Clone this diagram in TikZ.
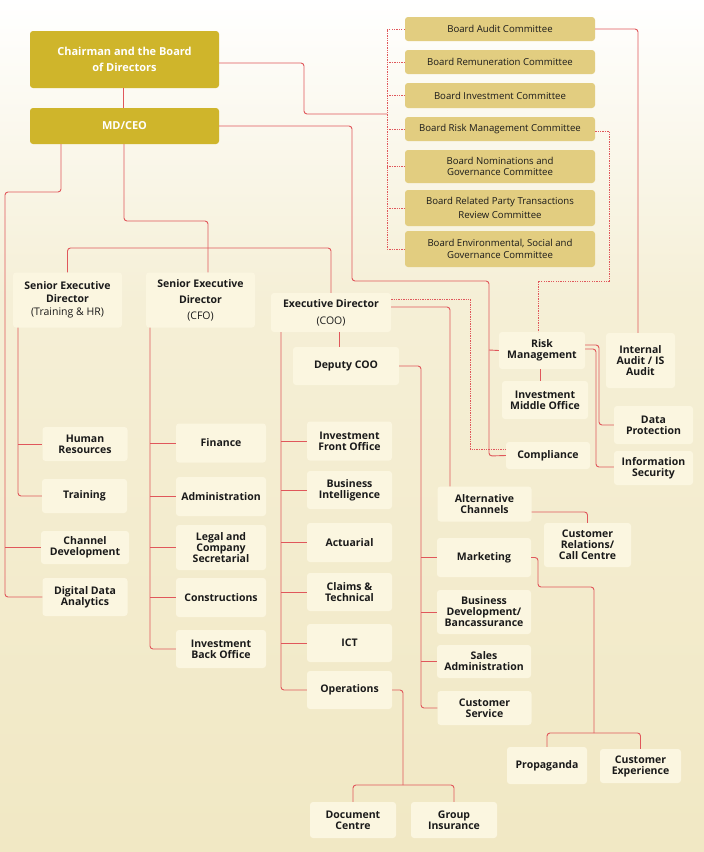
\documentclass[tikz,border=0pt]{standalone}
\usepackage{fontspec}
\setmainfont{Open Sans}
\usetikzlibrary{positioning}

\definecolor{bgmid}{HTML}{F5EFD6}
\definecolor{bgbot}{HTML}{F1E8C4}
\definecolor{gold}{HTML}{CFB52B}
\definecolor{comm}{HTML}{E2CD80}
\definecolor{cream}{HTML}{FBF6E0}
\definecolor{ink}{HTML}{1A1A1A}
\definecolor{linkred}{HTML}{E0575B}

\begin{document}
\begin{tikzpicture}[
    x=1pt, y=-1pt,
    topbox/.style={fill=gold, rounded corners=3pt, text=white, align=center, inner sep=0pt,
                   font=\fontsize{11}{16}\selectfont\bfseries},
    combox/.style={fill=comm, rounded corners=3pt, text=ink, align=center, inner sep=0pt,
                   minimum width=190pt, font=\fontsize{9.6}{11.5}\selectfont},
    unit/.style={fill=cream, rounded corners=3pt, text=ink, align=center, inner sep=0pt,
                 font=\fontsize{10.5}{11}\selectfont\bfseries},
    link/.style={draw=linkred, line width=0.9pt, rounded corners=3pt},
    dlink/.style={draw=linkred, line width=1pt, dash pattern=on 1.3pt off 1.1pt},
]

% Background
\shade[top color=white, bottom color=bgmid] (0,0) rectangle (704,300);
\shade[top color=bgmid, bottom color=bgbot] (0,300) rectangle (704,852);
\path[use as bounding box] (0,0) rectangle (704,852);

% Board and CEO
\node[topbox, minimum width=189pt, minimum height=57pt] (chair) at (124.5,59.5)
      {Chairman and the Board\\of Directors};
\node[topbox, minimum width=189pt, minimum height=36pt] (mdceo) at (124.5,126) {MD/CEO};

% Board committees
\node[combox, minimum height=24pt] (cma) at (500,29) {Board Audit Committee};
\node[combox, minimum height=24pt] (cmr) at (500,62) {Board Remuneration Committee};
\node[combox, minimum height=25pt] (cmi) at (500,95.5) {Board Investment Committee};
\node[combox, minimum height=24pt] (cmk) at (500,129) {Board Risk Management Committee};
\node[combox, minimum height=33pt] (cmn) at (500,166.5) {Board Nominations and\\Governance Committee};
\node[combox, minimum height=36pt] (cmp) at (500,208) {Board Related Party Transactions\\[2pt]Review Committee};
\node[combox, minimum height=36pt] (cme) at (500,249) {Board Environmental, Social and\\[1pt]Governance Committee};

% Directors
\node[unit, minimum width=109pt, minimum height=55pt] (sedhr) at (67.5,300)
      {Senior Executive\\[2pt]Director\\[2pt]{\mdseries (Training \& HR)}};
\node[unit, minimum width=109pt, minimum height=55pt] (sedcfo) at (200.5,300)
      {Senior Executive\\[5pt]Director\\[5pt]{\mdseries (CFO)}};
\node[unit, minimum width=120pt, minimum height=39pt] (edcoo) at (331,312.5)
      {Executive Director\\[6pt]{\mdseries (COO)}};
\node[unit, minimum width=106pt, minimum height=38pt] (dcoo) at (346,366) {Deputy COO};

% Risk and control
\node[unit, minimum width=86pt, minimum height=37pt] (risk) at (542,350.5) {Risk\\Management};
\node[unit, minimum width=86pt, minimum height=38pt] (imo) at (545,400) {Investment\\Middle Office};
\node[unit, minimum width=69pt, minimum height=55pt] (iaudit) at (640.5,360.5) {Internal\\Audit / IS\\Audit};
\node[unit, minimum width=84pt, minimum height=27pt] (compl) at (548,455.5) {Compliance};
\node[unit, minimum width=79pt, minimum height=38pt] (datap) at (653.5,425) {Data\\Protection};
\node[unit, minimum width=79pt, minimum height=34pt] (infosec) at (653.5,468) {Information\\Security};

% Training & HR units
\node[unit, minimum width=85pt, minimum height=34pt] (hres) at (85,444) {Human\\Resources};
\node[unit, minimum width=85pt, minimum height=34pt] (train) at (84.5,496) {Training};
\node[unit, minimum width=88pt, minimum height=33pt] (chdev) at (85,547.5) {Channel\\Development};
\node[unit, minimum width=85pt, minimum height=38pt] (dda) at (85,597) {Digital Data\\Analytics};

% CFO units
\node[unit, minimum width=90pt, minimum height=39pt] (fin) at (221,443) {Finance};
\node[unit, minimum width=90pt, minimum height=39pt] (admin) at (221,496.5) {Administration};
\node[unit, minimum width=90pt, minimum height=45pt] (legal) at (221,547.5) {Legal and\\Company\\Secretarial};
\node[unit, minimum width=90pt, minimum height=39pt] (constr) at (221,597.5) {Constructions};
\node[unit, minimum width=90pt, minimum height=38pt] (ibo) at (221,649) {Investment\\Back Office};

% COO units
\node[unit, minimum width=85pt, minimum height=39pt] (ifo) at (349.5,441) {Investment\\Front Office};
\node[unit, minimum width=85pt, minimum height=38pt] (bi) at (349.5,490) {Business\\Intelligence};
\node[unit, minimum width=85pt, minimum height=39pt] (act) at (349.5,542.5) {Actuarial};
\node[unit, minimum width=85pt, minimum height=38pt] (claims) at (349.5,592) {Claims \&\\Technical};
\node[unit, minimum width=85pt, minimum height=38pt] (ict) at (349.5,643) {ICT};
\node[unit, minimum width=85pt, minimum height=38pt] (ops) at (349.5,690) {Operations};
\node[unit, minimum width=86pt, minimum height=36pt] (doc) at (353,820) {Document\\Centre};
\node[unit, minimum width=86pt, minimum height=36pt] (grp) at (454,820) {Group\\Insurance};

% Deputy COO units
\node[unit, minimum width=94pt, minimum height=35pt] (altch) at (484.5,504) {Alternative\\Channels};
\node[unit, minimum width=94pt, minimum height=39pt] (mkt) at (484,557.5) {Marketing};
\node[unit, minimum width=94pt, minimum height=44pt] (bdev) at (484,612) {Business\\Development/\\Bancassurance};
\node[unit, minimum width=94pt, minimum height=33pt] (sales) at (484,661.5) {Sales\\Administration};
\node[unit, minimum width=94pt, minimum height=34pt] (custsvc) at (484.5,708) {Customer\\Service};
\node[unit, minimum width=87pt, minimum height=44pt] (crcc) at (587.5,545) {Customer\\Relations/\\Call Centre};
\node[unit, minimum width=80pt, minimum height=37pt] (prop) at (547,765.5) {Propaganda};
\node[unit, minimum width=81pt, minimum height=34pt] (cexp) at (640.5,766) {Customer\\Experience};

% Board links
\coordinate (bus) at (387,114);
\draw[link] (chair.south -| 123,0) -- (mdceo.north -| 123,0);
\draw[link] (chair.east |- 0,63) -- (304,63) -- (304,114) -- (bus);
\draw[dlink] (cma.west) -- (cma.west -| bus) -- (cme.west -| bus) -- (cme.west);
\foreach \c in {cmr,cmi,cmk,cmn,cmp}
    \draw[dlink] (\c.west -| bus) -- (\c.west);
\draw[link] (cma.east) -| (iaudit.north -| 638,0);
\draw[dlink] (cmk.east |- 0,131) -| (609,281) -| (risk.north -| 538,0);

% CEO links
\draw[link] (mdceo.east) -| (352,281) -| (489,456) -- (compl.west);
\draw[link] (489,350) -- (risk.west);
\draw[link] (mdceo.south -| 124,0) |- (208,221) -- (sedcfo.north -| 208,0);
\draw[link] (sedhr.north) |- (331,248) -- (edcoo.north);
\draw[link] (mdceo.south -| 61,0) |- (5,192) |- (dda.west);
\draw[link] (chdev.west -| 5,0) -- (chdev.west);

% Risk links
\draw[link] (risk.south -| 540,0) -- (imo.north -| 540,0);
\draw[link] (risk.east |- 0,345) -| (599,425) -- (datap.west);
\draw[link] (risk.east |- 0,349) -| (596,467) -- (infosec.west |- 0,467);

% Director links
\draw[link] (sedhr.south -| 18,0) |- (train.west);
\draw[link] (hres.west -| 18,0) -- (hres.west);
\draw[link] (sedcfo.south -| 150,0) |- (ibo.west);
\foreach \u in {fin,admin,legal,constr}
    \draw[link] (\u.west -| 150,0) -- (\u.west);
\draw[dlink] (edcoo.east |- 0,299) -| (470,449) -- (compl.west |- 0,449);
\draw[link] (edcoo.east |- 0,307) -| (altch.north -| 450,0);
\draw[link] (edcoo.south -| 339,0) -- (dcoo.north -| 339,0);
\draw[link] (edcoo.south -| 281,0) |- (ops.west);
\foreach \u in {ifo,bi,act,claims,ict}
    \draw[link] (\u.west -| 281,0) -- (\u.west);
\draw[link] (ops.east) -| (403,785);
\draw[link] (doc.north) |- (403,785) -| (grp.north);

% Deputy COO links
\draw[link] (dcoo.east) -| (421,708) -- (custsvc.west);
\foreach \u in {mkt,bdev,sales}
    \draw[link] (\u.west -| 421,0) -- (\u.west);
\draw[link] (altch.east |- 0,512) -| (crcc.north);
\draw[link] (mkt.east) -| (538,587) -| (594,733);
\draw[link] (prop.north) |- (594,733) -| (cexp.north);

\end{tikzpicture}
\end{document}
